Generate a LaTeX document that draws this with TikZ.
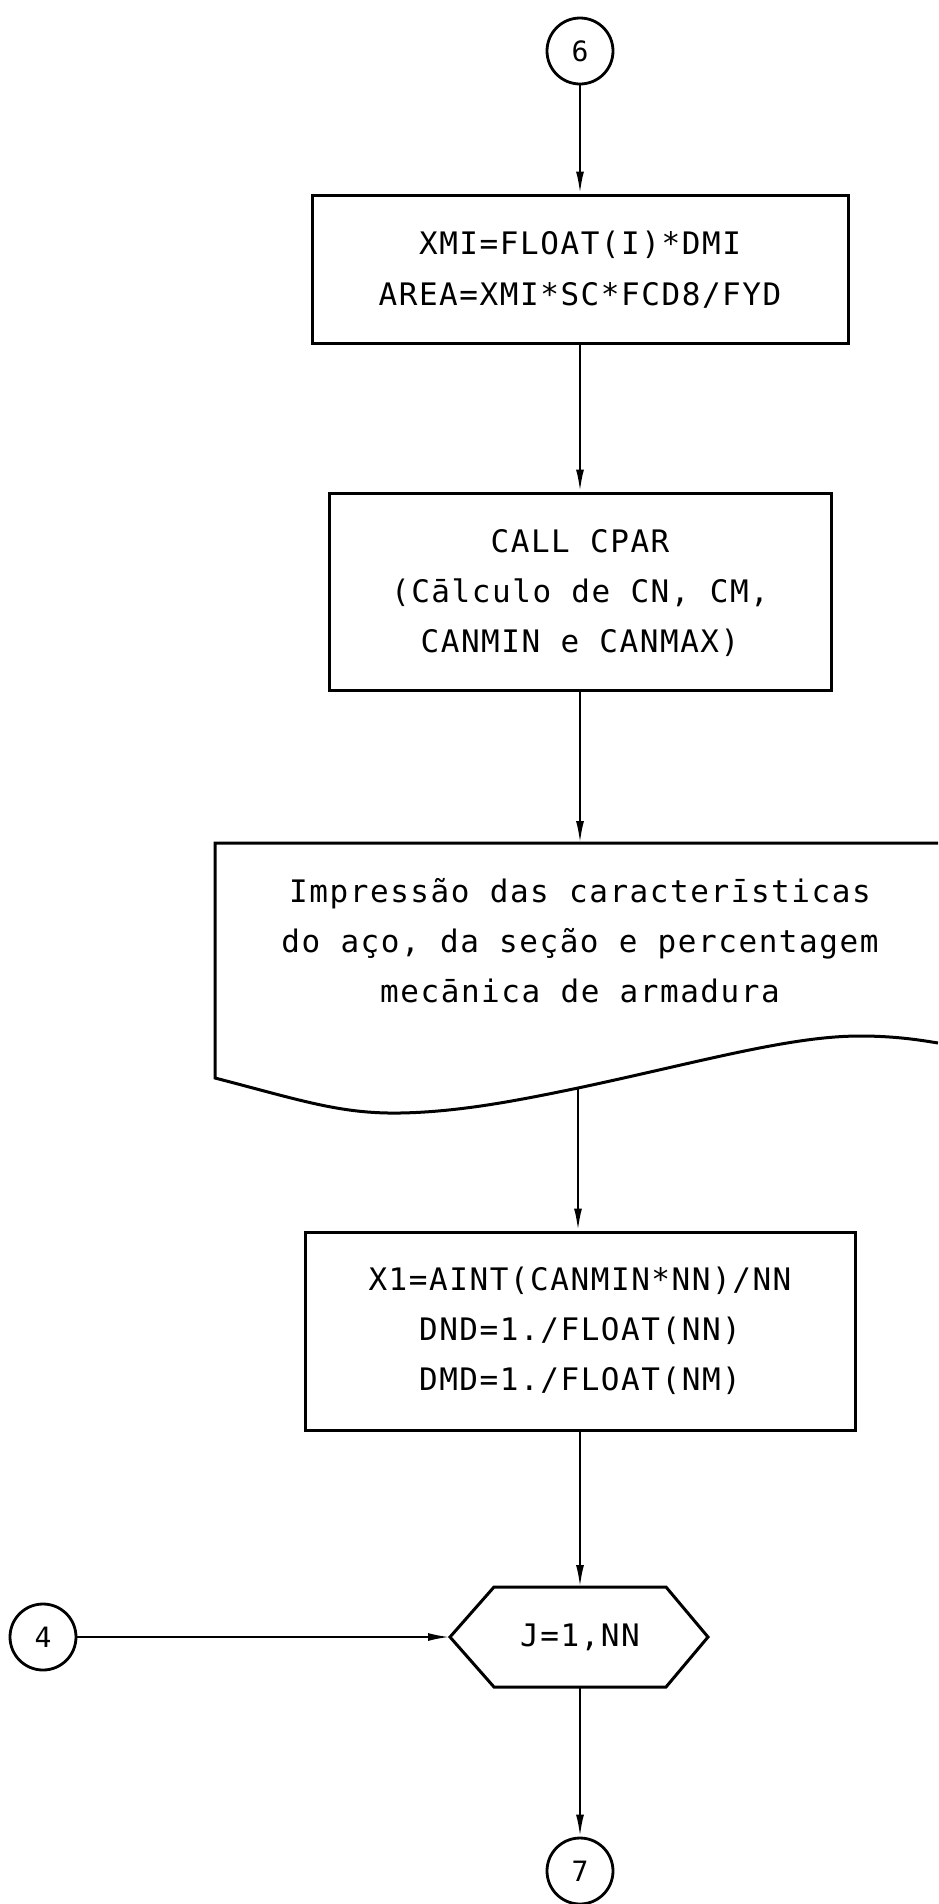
\documentclass[tikz,border=0pt]{standalone}
\usepackage{fontspec}
\setmonofont{DejaVu Sans Mono}
\newfontfamily\twfont[LetterSpace=5]{DejaVu Sans Mono}
\usetikzlibrary{arrows.meta}
\begin{document}
\begin{tikzpicture}[x=1pt,y=-1pt,
  box/.style={draw,line width=3pt,rectangle,inner sep=0pt},
  shp/.style={draw,line width=3pt,line join=miter},
  arr/.style={line width=2.2pt,-{Latex[length=22pt,width=8pt]}},
  conncirc/.style={draw,circle,line width=2.8pt,minimum size=66pt,inner sep=0pt,font=\fontsize{28}{30}\selectfont\ttfamily},
  txt/.style={align=center,inner sep=0pt}
]
\useasboundingbox (0,0) rectangle (938,1904);
\fill[white] (0,0) rectangle (938,1904);

% connector circles
\node[conncirc] (c6) at (580,51) {6};
\node[conncirc] (c4) at (43,1637) {4};
\node[conncirc] (c7) at (580,1871) {7};

% box 1
\node[box,minimum width=536pt,minimum height=148pt] (b1) at (580,269) {};
\node[txt,font=\twfont\fontsize{31}{51}\selectfont] (b1t) at (580,270) {XMI=FLOAT(I)*DMI\\AREA=XMI*SC*FCD8/FYD};

% box 2
\node[box,minimum width=502pt,minimum height=197pt] (b2) at (580,591.5) {};
\node[txt,font=\twfont\fontsize{31}{50}\selectfont] (b2t) at (580,593) {CALL CPAR\\(Cālculo de CN, CM,\\CANMIN e CANMAX)};

% document shape
\coordinate (doctop) at (580,843);
\coordinate (docbot) at (578,1088);
\draw[shp] (938,843) -- (215,843) -- (215,1078)
  .. controls (300,1100) and (340,1114) .. (400,1113)
  .. controls (460,1112) and (520,1100) .. (docbot)
  .. controls (700,1062) and (790,1036) .. (860,1036)
  .. controls (895,1036) and (920,1040) .. (938,1043);
\node[txt,font=\twfont\fontsize{31}{50}\selectfont] (doct) at (580,941) {Impressão das caracterīsticas\\do aço, da seção e percentagem\\mecānica de armadura};

% box 3
\node[box,minimum width=550pt,minimum height=198pt] (b3) at (580,1331) {};
\node[txt,font=\twfont\fontsize{31}{50}\selectfont] (b3t) at (580,1331) {X1=AINT(CANMIN*NN)/NN\\DND=1./FLOAT(NN)\\DMD=1./FLOAT(NM)};

% hexagon
\coordinate (hexL) at (450,1637);
\coordinate (hexT) at (580,1587);
\coordinate (hexB) at (580,1687);
\draw[shp] (hexL) -- (494,1587) -- (666,1587) -- (708,1637) -- (666,1687) -- (494,1687) -- cycle;
\node[txt,font=\twfont\fontsize{31}{36}\selectfont] (hext) at (580,1637) {J=1,NN};

% connectors
\draw[arr] (c6) -- (b1);
\draw[arr] (b1) -- (b2);
\draw[arr] (b2) -- (doctop);
\draw[arr] (docbot) -- (b3.north -| docbot);
\draw[arr] (b3) -- (hexT);
\draw[arr] (c4) -- (hexL);
\draw[arr] (hexB) -- (c7);
\end{tikzpicture}
\end{document}
